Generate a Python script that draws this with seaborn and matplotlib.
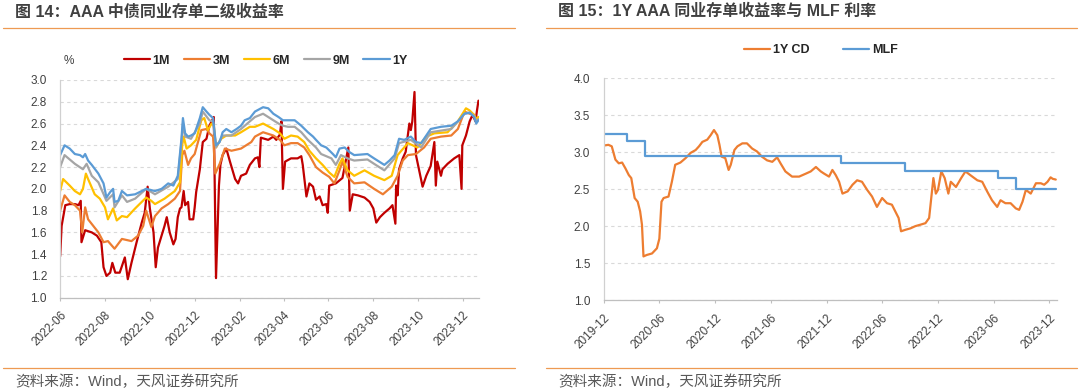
import matplotlib
matplotlib.use("Agg")
import numpy as np
import pandas as pd
import seaborn as sns
import matplotlib.pyplot as plt
import matplotlib.dates as mdates
from matplotlib.lines import Line2D
from matplotlib.ticker import FormatStrFormatter

sns.set_style("white")
plt.rcParams["font.family"] = ["Liberation Sans", "Noto Sans CJK SC"]

# ---- left chart: AAA CD yields by tenor (date, %) ----
S_1M = [("2022-06-01",1.38),("2022-06-03",1.66),("2022-06-08",1.85),("2022-06-14",1.86),("2022-06-21",1.86),
        ("2022-06-26",1.85),("2022-06-29",1.89),("2022-06-30",1.51),("2022-07-05",1.62),("2022-07-14",1.60),
        ("2022-07-21",1.57),("2022-07-27",1.51),("2022-07-30",1.28),("2022-08-03",1.20),("2022-08-08",1.23),
        ("2022-08-11",1.32),("2022-08-15",1.23),("2022-08-21",1.23),("2022-08-28",1.37),("2022-09-01",1.17),
        ("2022-09-06",1.32),("2022-09-13",1.51),("2022-09-20",1.69),("2022-09-24",1.78),("2022-09-28",2.02),
        ("2022-10-01",1.82),("2022-10-06",1.60),("2022-10-09",1.28),("2022-10-12",1.46),("2022-10-17",1.57),
        ("2022-10-21",1.66),("2022-10-24",1.74),("2022-10-28",1.60),("2022-11-02",1.49),("2022-11-05",1.54),
        ("2022-11-08",1.74),("2022-11-11",1.82),("2022-11-13",1.83),("2022-11-16",1.98),("2022-11-18",1.85),
        ("2022-11-22",1.88),("2022-11-24",1.72),("2022-11-29",1.72),("2022-12-01",1.83),("2022-12-03",1.97),
        ("2022-12-08",2.18),("2022-12-12",2.43),("2022-12-17",2.46),("2022-12-21",2.58),("2022-12-24",2.62),
        ("2022-12-27",2.66),("2022-12-30",1.18),("2023-01-03",2.03),("2023-01-05",2.22),("2023-01-08",2.31),
        ("2023-01-13",2.37),("2023-01-18",2.25),("2023-01-25",2.09),("2023-01-29",2.05),("2023-02-02",2.12),
        ("2023-02-09",2.14),("2023-02-14",2.22),("2023-02-21",2.28),("2023-02-25",2.29),("2023-02-27",2.20),
        ("2023-03-01",2.47),("2023-03-11",2.45),("2023-03-18",2.48),("2023-03-22",2.45),("2023-03-27",2.50),
        ("2023-03-29",2.62),("2023-03-31",2.00),("2023-04-03",2.25),("2023-04-11",2.28),("2023-04-20",2.28),
        ("2023-04-25",2.30),("2023-04-27",2.22),("2023-05-02",1.93),("2023-05-06",2.05),("2023-05-11",2.02),
        ("2023-05-15",1.90),("2023-05-20",1.93),("2023-05-24",1.85),("2023-05-29",1.86),("2023-05-31",1.78),
        ("2023-06-02",2.03),("2023-06-11",2.05),("2023-06-20",2.10),("2023-06-28",2.38),("2023-06-30",1.80),
        ("2023-07-04",1.95),("2023-07-11",1.94),("2023-07-20",1.92),("2023-07-27",1.88),("2023-08-01",1.82),
        ("2023-08-05",1.69),("2023-08-10",1.74),("2023-08-16",1.78),("2023-08-23",1.82),("2023-08-27",1.85),
        ("2023-08-31",1.68),("2023-09-01",2.03),("2023-09-03",1.94),("2023-09-05",2.18),("2023-09-10",2.28),
        ("2023-09-14",2.34),("2023-09-19",2.60),("2023-09-21",2.54),("2023-09-23",2.62),("2023-09-26",2.89),
        ("2023-09-28",2.31),("2023-10-03",2.15),("2023-10-07",2.02),("2023-10-12",2.12),("2023-10-18",2.21),
        ("2023-10-23",2.43),("2023-10-25",2.03),("2023-10-27",2.25),("2023-11-01",2.12),("2023-11-03",2.18),
        ("2023-11-10",2.23),("2023-11-19",2.28),("2023-11-26",2.31),("2023-11-29",2.00),("2023-11-30",2.40),
        ("2023-12-05",2.49),("2023-12-10",2.62),("2023-12-14",2.68),("2023-12-18",2.62),("2023-12-20",2.72),
        ("2023-12-22",2.81)]

S_3M = [("2022-06-01",1.80),("2022-06-07",1.94),("2022-06-14",1.88),("2022-06-21",1.85),("2022-06-28",1.80),
        ("2022-07-01",1.60),("2022-07-05",1.83),("2022-07-09",1.72),("2022-07-16",1.66),("2022-07-23",1.60),
        ("2022-07-30",1.51),("2022-08-05",1.52),("2022-08-14",1.45),("2022-08-24",1.54),("2022-09-06",1.52),
        ("2022-09-15",1.57),("2022-09-22",1.66),("2022-09-26",1.80),("2022-10-03",1.65),("2022-10-08",1.75),
        ("2022-10-17",1.82),("2022-10-26",1.86),("2022-11-04",1.91),("2022-11-11",1.98),("2022-11-14",2.31),
        ("2022-11-17",2.35),("2022-11-22",2.22),("2022-11-26",2.28),("2022-12-01",2.32),("2022-12-10",2.54),
        ("2022-12-17",2.55),("2022-12-21",2.51),("2022-12-26",2.48),("2022-12-29",2.14),("2023-01-04",2.23),
        ("2023-01-11",2.37),("2023-01-20",2.35),("2023-02-02",2.37),("2023-02-16",2.43),("2023-02-21",2.48),
        ("2023-03-04",2.52),("2023-03-18",2.49),("2023-03-27",2.45),("2023-04-02",2.40),("2023-04-11",2.42),
        ("2023-04-20",2.42),("2023-04-29",2.38),("2023-05-06",2.31),("2023-05-15",2.20),("2023-05-24",2.15),
        ("2023-06-02",2.11),("2023-06-09",2.05),("2023-06-16",2.17),("2023-06-20",2.25),("2023-06-27",2.11),
        ("2023-07-06",2.05),("2023-07-20",2.06),("2023-08-02",2.00),("2023-08-14",1.95),("2023-08-26",2.02),
        ("2023-09-03",2.12),("2023-09-10",2.26),("2023-09-17",2.31),("2023-09-28",2.32),("2023-10-09",2.38),
        ("2023-10-18",2.46),("2023-11-01",2.48),("2023-11-15",2.49),("2023-11-24",2.55),("2023-12-03",2.71),
        ("2023-12-10",2.69),("2023-12-16",2.68),("2023-12-19",2.64),("2023-12-22",2.66)]

S_6M = [("2022-06-01",1.98),("2022-06-05",2.09),("2022-06-14",2.03),("2022-06-21",1.98),("2022-06-28",1.95),
        ("2022-07-02",2.00),("2022-07-06",2.14),("2022-07-09",2.09),("2022-07-18",1.95),("2022-07-25",1.91),
        ("2022-08-01",1.83),("2022-08-05",1.72),("2022-08-12",1.82),("2022-08-17",1.71),("2022-08-24",1.75),
        ("2022-08-31",1.74),("2022-09-11",1.82),("2022-09-20",1.88),("2022-09-26",1.92),("2022-10-03",1.89),
        ("2022-10-08",1.86),("2022-10-21",1.91),("2022-11-04",1.98),("2022-11-11",2.06),("2022-11-14",2.40),
        ("2022-11-16",2.48),("2022-11-20",2.37),("2022-11-26",2.40),("2022-12-03",2.45),("2022-12-10",2.63),
        ("2022-12-14",2.65),("2022-12-19",2.54),("2022-12-24",2.60),("2022-12-27",2.58),("2022-12-30",2.38),
        ("2023-01-06",2.46),("2023-01-13",2.49),("2023-01-25",2.49),("2023-02-02",2.52),("2023-02-14",2.57),
        ("2023-02-21",2.57),("2023-03-04",2.60),("2023-03-18",2.55),("2023-03-27",2.51),("2023-04-02",2.46),
        ("2023-04-11",2.49),("2023-04-20",2.48),("2023-04-29",2.43),("2023-05-06",2.35),("2023-05-15",2.28),
        ("2023-05-24",2.22),("2023-06-02",2.15),("2023-06-09",2.11),("2023-06-16",2.23),("2023-06-20",2.28),
        ("2023-06-27",2.17),("2023-07-06",2.12),("2023-07-20",2.17),("2023-08-02",2.12),("2023-08-16",2.08),
        ("2023-08-26",2.12),("2023-09-03",2.31),("2023-09-17",2.42),("2023-09-30",2.38),("2023-10-12",2.48),
        ("2023-10-23",2.51),("2023-11-10",2.52),("2023-11-24",2.62),("2023-12-05",2.74),("2023-12-10",2.72),
        ("2023-12-16",2.68),("2023-12-19",2.64),("2023-12-22",2.66)]

S_9M = [("2022-06-01",2.20),("2022-06-07",2.31),("2022-06-21",2.23),("2022-07-02",2.18),("2022-07-07",2.23),
        ("2022-07-14",2.12),("2022-07-23",2.06),("2022-08-03",1.89),("2022-08-12",1.95),("2022-08-14",1.83),
        ("2022-08-24",1.94),("2022-08-31",1.88),("2022-09-11",1.91),("2022-09-26",2.00),("2022-10-08",1.95),
        ("2022-10-26",2.02),("2022-11-08",2.09),("2022-11-13",2.43),("2022-11-15",2.60),("2022-11-18",2.48),
        ("2022-11-26",2.46),("2022-12-08",2.60),("2022-12-12",2.71),("2022-12-21",2.63),("2022-12-26",2.62),
        ("2022-12-30",2.38),("2023-01-08",2.49),("2023-01-20",2.49),("2023-02-02",2.55),("2023-02-14",2.62),
        ("2023-02-21",2.66),("2023-03-04",2.69),("2023-03-18",2.63),("2023-03-25",2.60),("2023-03-31",2.58),
        ("2023-04-07",2.57),("2023-04-16",2.57),("2023-04-25",2.52),("2023-05-04",2.45),("2023-05-15",2.38),
        ("2023-05-22",2.32),("2023-06-05",2.28),("2023-06-11",2.22),("2023-06-18",2.31),("2023-06-27",2.28),
        ("2023-07-06",2.26),("2023-07-24",2.27),("2023-08-02",2.23),("2023-08-16",2.17),("2023-08-30",2.28),
        ("2023-09-05",2.42),("2023-09-21",2.45),("2023-10-05",2.38),("2023-10-18",2.52),("2023-11-15",2.55),
        ("2023-12-03",2.69),("2023-12-10",2.70),("2023-12-16",2.67),("2023-12-19",2.62),("2023-12-22",2.64)]

S_1Y = [("2022-06-01",2.31),("2022-06-07",2.40),("2022-06-14",2.37),("2022-06-21",2.32),("2022-06-28",2.31),
        ("2022-07-02",2.29),("2022-07-05",2.32),("2022-07-09",2.26),("2022-07-14",2.22),("2022-07-23",2.14),
        ("2022-07-30",2.05),("2022-08-03",1.92),("2022-08-08",1.97),("2022-08-12",2.00),("2022-08-14",1.88),
        ("2022-08-19",1.89),("2022-08-24",1.98),("2022-08-31",1.94),("2022-09-11",1.95),("2022-09-20",1.98),
        ("2022-09-26",2.00),("2022-10-08",1.98),("2022-10-17",2.00),("2022-10-26",2.05),("2022-11-02",2.03),
        ("2022-11-08",2.12),("2022-11-13",2.46),("2022-11-15",2.65),("2022-11-18",2.51),("2022-11-22",2.48),
        ("2022-11-26",2.49),("2022-12-01",2.51),("2022-12-08",2.65),("2022-12-12",2.75),("2022-12-17",2.71),
        ("2022-12-21",2.68),("2022-12-26",2.65),("2022-12-30",2.40),("2023-01-04",2.43),("2023-01-08",2.52),
        ("2023-01-13",2.55),("2023-01-20",2.52),("2023-01-27",2.55),("2023-02-02",2.58),("2023-02-07",2.63),
        ("2023-02-14",2.65),("2023-02-21",2.71),("2023-03-04",2.75),("2023-03-11",2.74),("2023-03-18",2.69),
        ("2023-03-25",2.66),("2023-03-31",2.63),("2023-04-16",2.63),("2023-04-25",2.58),("2023-05-04",2.52),
        ("2023-05-11",2.48),("2023-05-15",2.45),("2023-05-22",2.40),("2023-05-29",2.38),("2023-06-07",2.32),
        ("2023-06-11",2.29),("2023-06-16",2.37),("2023-06-23",2.38),("2023-06-29",2.34),("2023-07-06",2.31),
        ("2023-07-24",2.32),("2023-08-02",2.28),("2023-08-16",2.22),("2023-08-23",2.26),("2023-08-30",2.31),
        ("2023-09-05",2.46),("2023-09-12",2.45),("2023-09-21",2.48),("2023-09-28",2.43),("2023-10-05",2.42),
        ("2023-10-12",2.49),("2023-10-18",2.55),("2023-11-01",2.57),("2023-11-15",2.58),("2023-11-24",2.62),
        ("2023-12-03",2.69),("2023-12-10",2.70),("2023-12-16",2.66),("2023-12-19",2.60),("2023-12-22",2.63)]

LEFT_SERIES = ["1M", "3M", "6M", "9M", "1Y"]
LEFT_COLORS = ["#C00000", "#ED7D31", "#FFC000", "#A5A5A5", "#5B9BD5"]

# ---- right chart: 1Y AAA CD vs MLF ----
CD_1Y = [("2019-12-02",3.09),("2019-12-17",3.10),("2019-12-28",3.08),("2020-01-09",2.90),("2020-01-20",2.85),
         ("2020-01-31",2.86),("2020-02-11",2.78),("2020-02-22",2.69),("2020-03-01",2.65),("2020-03-12",2.38),
         ("2020-03-22",2.33),("2020-03-30",2.20),("2020-04-05",2.02),("2020-04-10",1.59),("2020-04-21",1.61),
         ("2020-05-08",1.63),("2020-05-24",1.70),("2020-06-01",1.83),("2020-06-08",2.33),("2020-06-15",2.38),
         ("2020-07-01",2.40),("2020-07-12",2.60),("2020-07-23",2.83),("2020-08-09",2.86),("2020-08-26",2.92),
         ("2020-09-11",2.99),("2020-09-28",3.03),("2020-10-09",3.08),("2020-10-20",3.14),("2020-11-05",3.17),
         ("2020-11-16",3.23),("2020-11-27",3.30),("2020-12-08",3.23),("2020-12-15",3.10),("2020-12-22",2.94),
         ("2021-01-03",2.92),("2021-01-14",2.76),("2021-01-21",2.83),("2021-02-02",3.03),("2021-02-12",3.08),
         ("2021-02-28",3.12),("2021-03-15",3.12),("2021-04-01",3.05),("2021-04-17",3.01),("2021-05-03",2.94),
         ("2021-05-20",2.89),("2021-06-06",2.87),("2021-06-22",2.93),("2021-07-03",2.85),("2021-07-19",2.74),
         ("2021-08-10",2.67),("2021-09-02",2.67),("2021-09-24",2.71),("2021-10-10",2.74),("2021-10-27",2.80),
         ("2021-11-12",2.74),("2021-11-23",2.71),("2021-12-09",2.67),("2021-12-20",2.76),("2021-12-31",2.69),
         ("2022-01-11",2.60),("2022-01-22",2.44),("2022-02-08",2.47),("2022-02-24",2.56),("2022-03-11",2.62),
         ("2022-03-27",2.60),("2022-04-13",2.49),("2022-04-29",2.40),("2022-05-15",2.26),("2022-06-01",2.38),
         ("2022-06-17",2.31),("2022-07-03",2.29),("2022-07-14",2.20),("2022-07-25",2.11),("2022-08-02",1.93),
         ("2022-08-16",1.95),("2022-09-02",1.97),("2022-09-18",2.00),("2022-10-05",2.02),("2022-10-21",2.04),
         ("2022-11-02",2.11),("2022-11-10",2.42),("2022-11-16",2.65),("2022-11-24",2.44),("2022-12-01",2.49),
         ("2022-12-12",2.74),("2022-12-23",2.65),("2023-01-04",2.44),("2023-01-12",2.60),("2023-01-29",2.53),
         ("2023-02-15",2.65),("2023-03-01",2.74),("2023-03-17",2.69),("2023-04-09",2.62),("2023-04-25",2.60),
         ("2023-05-11",2.47),("2023-05-27",2.35),("2023-06-13",2.26),("2023-06-24",2.35),("2023-07-10",2.31),
         ("2023-07-27",2.31),("2023-08-13",2.24),("2023-08-24",2.22),("2023-09-04",2.33),("2023-09-15",2.49),
         ("2023-10-01",2.44),("2023-10-18",2.58),("2023-11-03",2.58),("2023-11-14",2.56),("2023-11-25",2.60),
         ("2023-12-05",2.66),("2023-12-12",2.64),("2023-12-22",2.63)]

MLF = [("2019-12-02",3.25),("2020-02-17",3.15),("2020-04-15",2.95),("2022-01-17",2.85),
       ("2022-08-15",2.75),("2023-06-15",2.65),("2023-08-15",2.50),("2023-12-22",2.50)]

TITLE_L = "图 14：AAA 中债同业存单二级收益率"
TITLE_R = "图 15：1Y AAA 同业存单收益率与 MLF 利率"
SOURCE = "资料来源：Wind，天风证券研究所"


def to_frame(pairs, name):
    df = pd.DataFrame(pairs, columns=["date", "value"])
    df["date"] = pd.to_datetime(df["date"])
    df["series"] = name
    return df


def style_axes(ax, ticks):
    ax.set_yticks(ticks)
    ax.set_ylim(ticks[0], ticks[-1])
    ax.yaxis.set_major_formatter(FormatStrFormatter("%.1f"))
    ax.grid(axis="y", color="#D9D9D9", linestyle=(0, (3, 3)), linewidth=0.8)
    ax.grid(axis="x", visible=False)
    ax.set_axisbelow(True)
    for s in ["top", "right"]:
        ax.spines[s].set_visible(False)
    ax.spines["left"].set_color("#D0D0D0")
    ax.spines["bottom"].set_color("#BFBFBF")
    ax.spines["left"].set_linewidth(0.9)
    ax.spines["bottom"].set_linewidth(0.9)
    ax.tick_params(axis="y", length=0, pad=9.5, labelsize=8.5, labelcolor="#404040")
    ax.tick_params(axis="x", bottom=True, length=2.5, width=0.8, color="#BFBFBF",
                   pad=6, labelsize=8.5, labelcolor="#404040")
    ax.xaxis.set_major_formatter(mdates.DateFormatter("%Y-%m"))
    for lbl in ax.get_xticklabels():
        lbl.set_rotation(45)
        lbl.set_ha("right")
        lbl.set_va("top")
        lbl.set_rotation_mode("anchor")
    ax.set_xlabel("")
    ax.set_ylabel("")


fig = plt.figure(figsize=(10.8, 3.91), dpi=100)
ax1 = fig.add_axes([0.0557, 0.2386, 0.388, 0.5568])
ax2 = fig.add_axes([0.5588, 0.2327, 0.4199, 0.567])

# left chart
left_df = pd.concat([to_frame(p, n) for p, n in zip([S_1M, S_3M, S_6M, S_9M, S_1Y], LEFT_SERIES)])
sns.lineplot(data=left_df, x="date", y="value", hue="series", hue_order=LEFT_SERIES,
             palette=LEFT_COLORS, linewidth=1.6, estimator=None, sort=True, ax=ax1)
ax1.set_xlim(pd.Timestamp("2022-06-01"), pd.Timestamp("2023-12-23"))
ax1.xaxis.set_major_locator(mdates.MonthLocator(bymonth=[2, 4, 6, 8, 10, 12]))
style_axes(ax1, np.round(np.arange(1.0, 3.01, 0.2), 1))
h, l = ax1.get_legend_handles_labels()
ax1.legend(h, l, loc="center", bbox_to_anchor=(0.49, 1.0887), ncol=5, frameon=False,
           handlelength=2.1, handletextpad=0.2, columnspacing=1.1, borderaxespad=0, borderpad=0,
           prop={"weight": "bold", "size": 9})
ax1.text(0.021, 1.0887, "%", transform=ax1.transAxes, ha="center", va="center",
         fontsize=8.5, color="#404040")

# right chart
cd_df = to_frame(CD_1Y, "1Y CD")
mlf_df = to_frame(MLF, "MLF")
sns.lineplot(data=cd_df, x="date", y="value", color="#ED7D31", linewidth=1.6,
             estimator=None, label="1Y CD", ax=ax2)
sns.lineplot(data=mlf_df, x="date", y="value", color="#5B9BD5", linewidth=1.6,
             estimator=None, drawstyle="steps-post", label="MLF", ax=ax2)
ax2.set_xlim(pd.Timestamp("2019-12-01"), pd.Timestamp("2023-12-26"))
ax2.xaxis.set_major_locator(mdates.MonthLocator(bymonth=[6, 12]))
style_axes(ax2, np.round(np.arange(1.0, 4.01, 0.5), 1))
h, l = ax2.get_legend_handles_labels()
ax2.legend(h, l, loc="center", bbox_to_anchor=(0.479, 1.126), ncol=2, frameon=False,
           handlelength=2.1, handletextpad=0.2, columnspacing=2.7, borderaxespad=0, borderpad=0,
           prop={"weight": "bold", "size": 9})

# titles, rules and source notes
rule = "#EE9A52"
for x0, x1, title in [(3, 515, TITLE_L), (546, 1077, TITLE_R)]:
    fig.add_artist(Line2D([x0 / 1080, x1 / 1080], [1 - 27.5 / 391] * 2, color=rule,
                          linewidth=0.9, transform=fig.transFigure))
    fig.add_artist(Line2D([x0 / 1080, x1 / 1080], [1 - 367.7 / 391] * 2, color=rule,
                          linewidth=0.9, transform=fig.transFigure))
    fig.text((x0 + 12) / 1080, 1 - 11.5 / 391, title, ha="left", va="center",
             fontsize=11.5, fontweight="bold", color="#404040")
    fig.text((x0 + 12) / 1080, 1 - 382 / 391, SOURCE, ha="left", va="center",
             fontsize=10.5, color="#595959")

fig.savefig("out.png", dpi=100)
